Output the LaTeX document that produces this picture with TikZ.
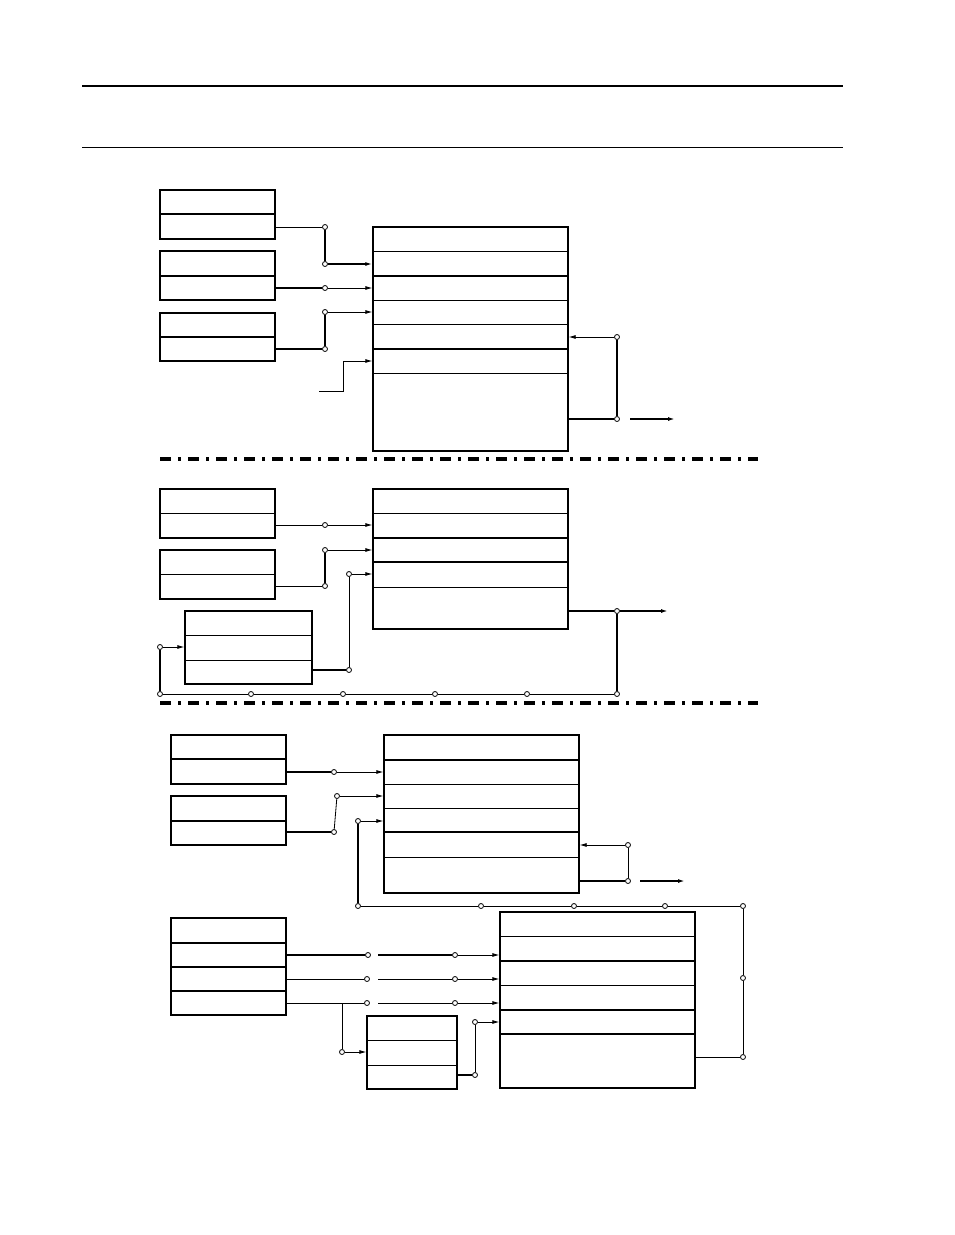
\documentclass[tikz,border=0pt]{standalone}
\usetikzlibrary{arrows.meta}
\tikzset{
  thn/.style={line width=0.8pt},
  thk/.style={line width=1.8pt},
  regbox/.style={draw,line width=1.3pt,inner sep=0pt,rectangle},
  tap/.style={circle,draw,line width=0.8pt,fill=white,inner sep=0pt,minimum size=5pt},
  feed/.style={line width=0.8pt,-{Latex[length=7pt,width=4pt]}},
  sep/.style={line width=3.5pt,dash pattern=on 11pt off 7pt on 3pt off 7pt}
}
% box: name, x1, y1, x2, y2, dividers y/style
\newcommand{\regbox}[6]{%
  \node[regbox,minimum width={(#4-#2)*1pt},minimum height={(#5-#3)*1pt}]
    (#1) at ({(#2+#4)/2},{(#3+#5)/2}) {};
  \foreach \d/\w in {#6} \draw[\w] (#2,\d) -- (#4,\d);
}
\begin{document}
\begin{tikzpicture}[x=1pt,y=-1pt]
  \useasboundingbox (0,0) rectangle (954,1235);
  \draw[line width=1.5pt] (82,86) -- (843,86);
  \draw[thn] (82,147) -- (843,147);

  % upper section
  \regbox{a1}{160}{190}{275}{239}{214/thk}
  \regbox{a2}{160}{251}{275}{300}{276/thk}
  \regbox{a3}{160}{313}{275}{361}{337/thk}
  \regbox{m1}{373}{227}{568}{451}{251/thn,276/thk,300/thn,324/thn,349/thk,373/thn}
  \node[tap] (t1) at (325,227) {};
  \node[tap] (t2) at (325,264) {};
  \node[tap] (t3) at (325,288) {};
  \node[tap] (t4) at (325,312) {};
  \node[tap] (t5) at (325,349) {};
  \node[tap] (t6) at (617,337) {};
  \node[tap] (t7) at (617,419) {};
  \coordinate (in1) at (319,391);
  \coordinate (out1) at (675,419);
  \draw[thn] (a1.east |- t1) -- (t1);
  \draw[thk] (t1) -- (t2);
  \draw[feed,line width=1.6pt] (t2) -- (m1.west |- t2);
  \draw[thk] (a2.east |- t3) -- (t3);
  \draw[feed] (t3) -- (m1.west |- t3);
  \draw[feed] (t4) -- (m1.west |- t4);
  \draw[thk] (t4) -- (t5);
  \draw[thk] (a3.east |- t5) -- (t5);
  \draw[feed] (in1) -- (343,391) -- (343,361) -- (m1.west |- 0,361);
  \draw[feed] (t6) -- (m1.east |- t6);
  \draw[thk] (t6) -- (t7);
  \draw[thk] (m1.east |- t7) -- (t7);
  \draw[feed,line width=1.6pt] (630,419) -- (out1);
  \draw[sep] (160,459) -- (758,459);

  % middle section
  \regbox{b1}{160}{489}{275}{538}{513/thn}
  \regbox{b2}{160}{550}{275}{599}{574/thn}
  \regbox{b3}{185}{611}{312}{684}{635/thn,660/thn}
  \regbox{m2}{373}{489}{568}{629}{513/thn,538/thk,562/thk,587/thn}
  \node[tap] (u1) at (325,525) {};
  \node[tap] (u2) at (325,550) {};
  \node[tap] (u3) at (325,586) {};
  \node[tap] (u4) at (349,574) {};
  \node[tap] (u5) at (349,670) {};
  \node[tap] (u6) at (160,647) {};
  \node[tap] (r1) at (617,611) {};
  \coordinate (out2) at (668,611);
  \foreach \n/\x in {p1/160,p2/251,p3/343,p4/435,p5/527,p6/617}
    \node[tap] (\n) at (\x,694) {};
  \draw[thn] (b1.east |- u1) -- (u1);
  \draw[feed] (u1) -- (m2.west |- u1);
  \draw[feed] (u2) -- (m2.west |- u2);
  \draw[thk] (u2) -- (u3);
  \draw[thn] (b2.east |- u3) -- (u3);
  \draw[feed] (u4) -- (m2.west |- u4);
  \draw[thn] (u4) -- (u5);
  \draw[thk] (b3.east |- u5) -- (u5);
  \draw[feed] (u6) -- (b3.west |- u6);
  \draw[thk] (u6) -- (p1);
  \draw[thn] (p1) -- (p2) -- (p3) -- (p4) -- (p5) -- (p6);
  \draw[thk] (m2.east |- r1) -- (r1);
  \draw[feed,line width=1.6pt] (r1) -- (out2);
  \draw[thk] (r1) -- (p6);
  \draw[sep] (160,703) -- (758,703);

  % lower section
  \regbox{c1}{171}{735}{286}{784}{759/thk}
  \regbox{c2}{171}{796}{286}{845}{821/thk}
  \regbox{m3}{384}{735}{579}{893}{760/thk,784/thn,808/thn,832/thk,857/thn}
  \node[tap] (v1) at (334,772) {};
  \node[tap] (v2) at (337,796) {};
  \node[tap] (v3) at (334,832) {};
  \node[tap] (v4) at (358,821) {};
  \node[tap] (v6) at (628,845) {};
  \node[tap] (v7) at (628,881) {};
  \coordinate (out3) at (685,881);
  \foreach \n/\x in {q1/358,q2/481,q3/574,q4/665,q5/743}
    \node[tap] (\n) at (\x,906) {};
  \draw[thk] (c1.east |- v1) -- (v1);
  \draw[feed] (v1) -- (m3.west |- v1);
  \draw[feed] (v2) -- (m3.west |- v2);
  \draw[thn] (v2) -- (v3);
  \draw[thk] (c2.east |- v3) -- (v3);
  \draw[feed] (v4) -- (m3.west |- v4);
  \draw[thk] (v4) -- (q1);
  \draw[feed] (v6) -- (m3.east |- v6);
  \draw[thn] (v6) -- (v7);
  \draw[thk] (m3.east |- v7) -- (v7);
  \draw[feed,line width=1.6pt] (640,881) -- (out3);
  \draw[thn] (q1) -- (q2) -- (q3) -- (q4) -- (q5);

  \regbox{d1}{171}{918}{286}{1015}{943/thk,967/thk,991/thk}
  \regbox{m4}{500}{912}{695}{1088}{936/thn,961/thk,985/thn,1010/thk,1034/thk}
  \regbox{e1}{367}{1016}{457}{1089}{1040/thn,1065/thn}
  \node[tap] (w1) at (368,955) {};
  \node[tap] (w2) at (455,955) {};
  \node[tap] (w3) at (367,979) {};
  \node[tap] (w4) at (455,979) {};
  \node[tap] (w5) at (367,1003) {};
  \node[tap] (w6) at (455,1003) {};
  \node[tap] (w7) at (342,1052) {};
  \node[tap] (w8) at (475,1022) {};
  \node[tap] (w9) at (475,1075) {};
  \node[tap] (q6) at (743,978) {};
  \node[tap] (q7) at (743,1057) {};
  \coordinate (k1) at (342,1003);
  \draw[thk] (d1.east |- w1) -- (w1);
  \draw[thk] (378,955) -- (w2);
  \draw[feed] (w2) -- (m4.west |- w2);
  \draw[thn] (d1.east |- w3) -- (w3);
  \draw[thn] (378,979) -- (w4);
  \draw[feed] (w4) -- (m4.west |- w4);
  \draw[thn] (d1.east |- w5) -- (w5);
  \draw[thn] (378,1003) -- (w6);
  \draw[feed] (w6) -- (m4.west |- w6);
  \draw[thn] (k1) -- (w7);
  \draw[feed] (w7) -- (e1.west |- w7);
  \draw[feed] (w8) -- (m4.west |- w8);
  \draw[thn] (w8) -- (w9);
  \draw[thk] (e1.east |- w9) -- (w9);
  \draw[thn] (q5) -- (q6) -- (q7);
  \draw[thn] (m4.east |- q7) -- (q7);
\end{tikzpicture}
\end{document}
